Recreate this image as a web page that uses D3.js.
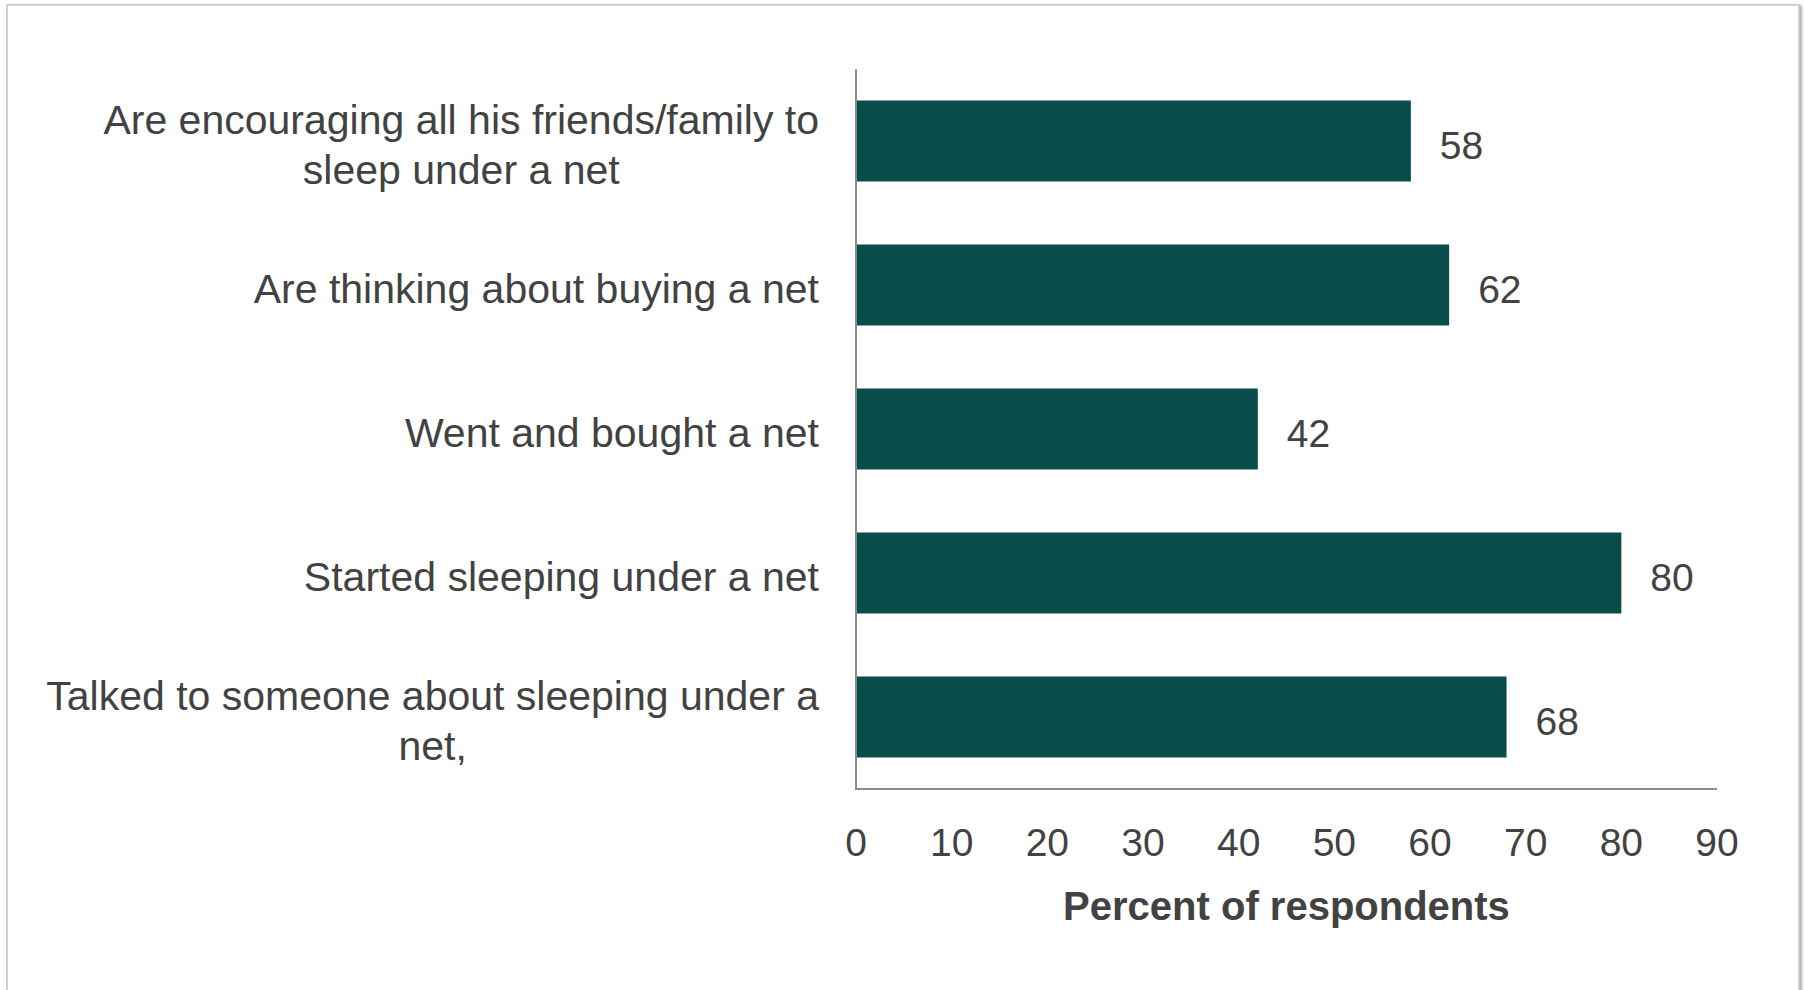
<!DOCTYPE html>
<html>
<head>
<meta charset="utf-8">
<script src="https://cdn.jsdelivr.net/npm/d3@7"></script>
<style>
  body { margin: 0; background: #fff; }
  svg { display: block; font-family: "Liberation Sans", Arial, sans-serif; }
</style>
</head>
<body>
<div id="chart"></div>
<script>
// data, top to bottom
const categories = [
  "Are encouraging all his friends/family to|sleep under a net",
  "Are thinking about buying a net",
  "Went and bought a net",
  "Started sleeping under a net",
  "Talked to someone about sleeping under a|net,"
];
const values = [58, 62, 42, 80, 68];
const xTicks = [0, 10, 20, 30, 40, 50, 60, 70, 80, 90];
const xTitle = "Percent of respondents";

const W = 1804, H = 990;
const barColor = "#084d4a";
const textColor = "#424242";
const axisColor = "#8c8c8c";

const svg = d3.select("#chart").append("svg")
  .attr("width", W)
  .attr("height", H);

// frame with soft shadow
const defs = svg.append("defs");
const f = defs.append("filter").attr("id", "shadow")
  .attr("x", "-2%").attr("y", "-2%").attr("width", "104%").attr("height", "104%");
f.append("feDropShadow").attr("dx", 2).attr("dy", 1).attr("stdDeviation", 1.5)
  .attr("flood-color", "#000").attr("flood-opacity", 0.35);

svg.append("rect")
  .attr("x", 7).attr("y", 5)
  .attr("width", 1792).attr("height", 1000)
  .attr("fill", "#fff")
  .attr("stroke", "#c4c4c4")
  .attr("stroke-width", 1.5)
  .attr("filter", "url(#shadow)");

const x0 = 856, x1 = 1717, yTop = 69, yBot = 789;

const x = d3.scaleLinear().domain([0, 90]).range([x0, x1]);
const y = d3.scaleBand()
  .domain(categories)
  .range([yTop, yBot])
  .paddingInner(0.4375)
  .paddingOuter(0.21875);

// bars
svg.append("g")
  .selectAll("rect")
  .data(categories)
  .join("rect")
    .attr("x", x(0))
    .attr("y", d => y(d))
    .attr("width", (d, i) => x(values[i]) - x(0))
    .attr("height", y.bandwidth())
    .attr("fill", barColor);

// value labels
svg.append("g")
  .selectAll("text")
  .data(categories)
  .join("text")
    .attr("x", (d, i) => x(values[i]) + 29)
    .attr("y", d => y(d) + y.bandwidth() / 2 + 4.5)
    .attr("dy", "0.35em")
    .attr("font-size", 39)
    .attr("fill", textColor)
    .text((d, i) => values[i]);

// axes lines
svg.append("line")
  .attr("x1", x0).attr("x2", x0)
  .attr("y1", yTop).attr("y2", yBot)
  .attr("stroke", axisColor).attr("stroke-width", 2);
svg.append("line")
  .attr("x1", x0 - 1).attr("x2", x1)
  .attr("y1", yBot).attr("y2", yBot)
  .attr("stroke", axisColor).attr("stroke-width", 2);

// x tick labels
svg.append("g")
  .selectAll("text")
  .data(xTicks)
  .join("text")
    .attr("x", d => x(d))
    .attr("y", 856)
    .attr("text-anchor", "middle")
    .attr("font-size", 39)
    .attr("fill", textColor)
    .text(d => d);

// axis title
svg.append("text")
  .attr("x", (x0 + x1) / 2)
  .attr("y", 920)
  .attr("text-anchor", "middle")
  .attr("font-size", 40)
  .attr("font-weight", "bold")
  .attr("fill", textColor)
  .text(xTitle);

// category labels: block right-aligned, lines centered within block
const labelRight = 819;
const lineH = 50;
const labels = svg.append("g");
categories.forEach(c => {
  const lines = c.split("|");
  const g = labels.append("g");
  const cy = y(c) + y.bandwidth() / 2 + 4;
  const ts = lines.map((ln, i) => g.append("text")
    .attr("y", cy + (i - (lines.length - 1) / 2) * lineH)
    .attr("dy", "0.35em")
    .attr("font-size", 41)
    .attr("fill", textColor)
    .attr("text-anchor", "middle")
    .text(ln));
  const maxW = d3.max(ts, t => t.node().getComputedTextLength());
  ts.forEach(t => t.attr("x", labelRight - maxW / 2));
});
</script>
</body>
</html>
